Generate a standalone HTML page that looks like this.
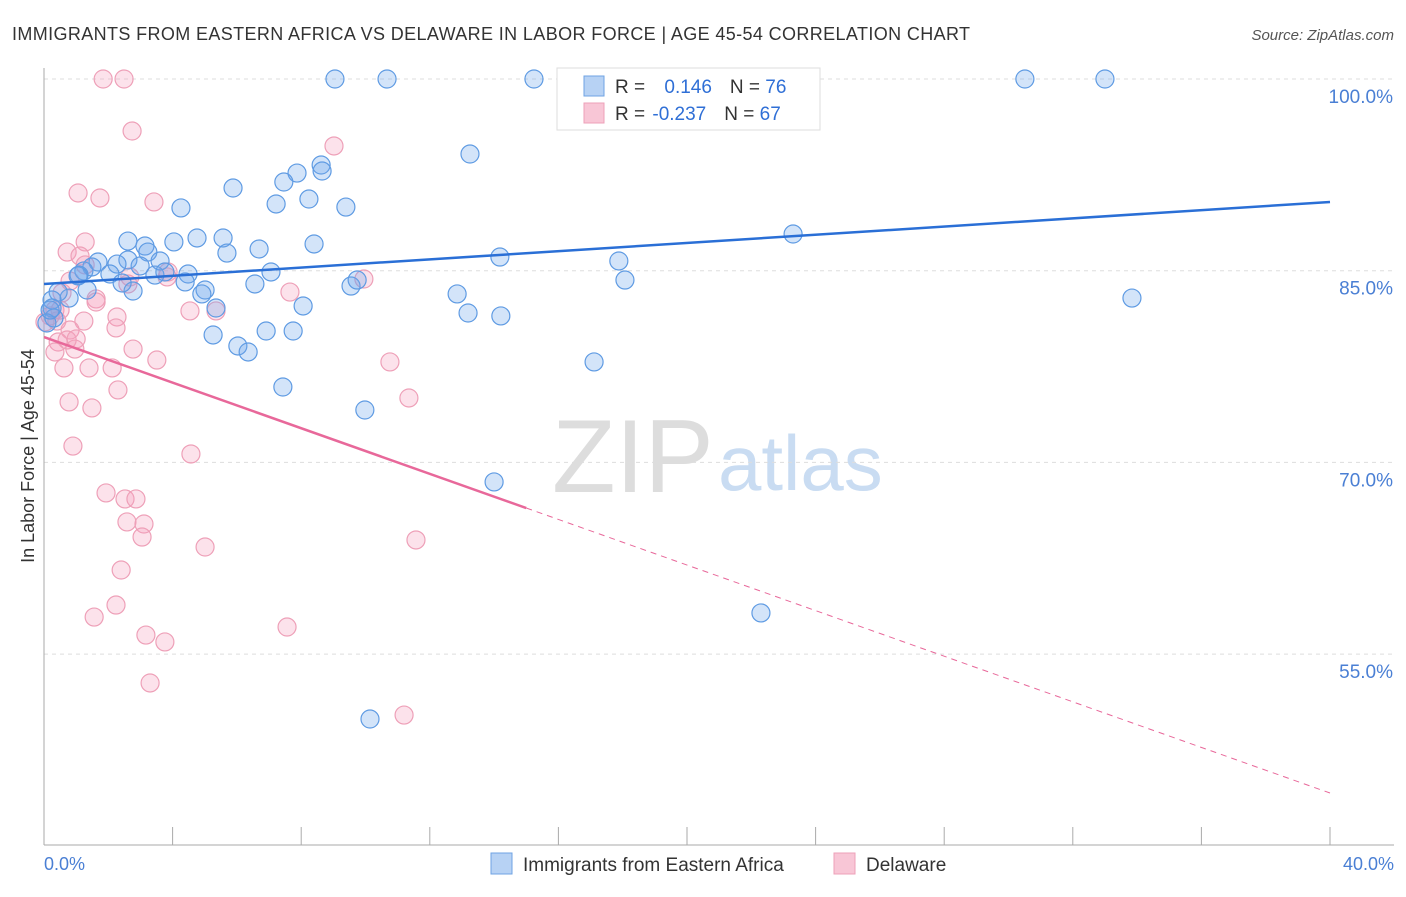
<!DOCTYPE html>
<html><head><meta charset="utf-8"><style>
body{margin:0;background:#fff;font-family:"Liberation Sans",sans-serif}
svg text{font-family:"Liberation Sans",sans-serif}
</style></head><body>
<svg id="c" width="1406" height="892" viewBox="0 0 1406 892">
<text x="12" y="40" font-size="18" fill="#333" textLength="958">IMMIGRANTS FROM EASTERN AFRICA VS DELAWARE IN LABOR FORCE | AGE 45-54 CORRELATION CHART</text>
<text x="1394" y="40" font-size="15" fill="#555" font-style="italic" text-anchor="end">Source: ZipAtlas.com</text>
<g>
<text x="552" y="492" font-size="104" fill="#ddd" font-family="Liberation Serif,serif">ZIP</text>
<text x="718" y="490" font-size="78" fill="#c9dcf2">atlas</text>
</g>
<g id="grid"></g><g id="axes"></g><g id="pts"></g><g id="trend"></g>
<text transform="translate(34,456) rotate(-90)" font-size="18" fill="#333" text-anchor="middle">In Labor Force | Age 45-54</text>
<text x="44" y="870" font-size="18" fill="#4a7fd4">0.0%</text>
<text x="1394" y="870" font-size="18" fill="#4a7fd4" text-anchor="end">40.0%</text>
<g>
<rect x="557" y="68" width="263" height="62" fill="#fff" stroke="#ddd"/>
<rect x="584" y="76" width="20" height="20" fill="#b7d2f4" stroke="#6fa3e3"/>
<rect x="584" y="103" width="20" height="20" fill="#f8c6d6" stroke="#eea0b8"/>
<text x="615" y="93" font-size="19" fill="#333">R = <tspan fill="#2f6fd6" dx="14">0.146</tspan><tspan dx="18">N = </tspan><tspan fill="#2f6fd6">76</tspan></text>
<text x="615" y="120" font-size="19" fill="#333">R = <tspan fill="#2f6fd6" dx="2">-0.237</tspan><tspan dx="18">N = </tspan><tspan fill="#2f6fd6">67</tspan></text>
</g>
<g>
<rect x="491" y="853" width="21" height="21" fill="#b7d2f4" stroke="#6fa3e3"/>
<text x="523" y="871" font-size="19" fill="#333">Immigrants from Eastern Africa</text>
<rect x="834" y="853" width="21" height="21" fill="#f8c6d6" stroke="#eea0b8"/>
<text x="866" y="871" font-size="19" fill="#333">Delaware</text>
</g>
</svg>
<script>
const yTicks=[100,85,70,55];
const yTickLabels=["100.0%","85.0%","70.0%","55.0%"];
const blueX=[9.05,10.67,15.24,16.58,30.51,33.0,13.25,8.62,8.65,7.87,7.46,5.88,8.24,7.22,9.39,4.26,2.61,3.14,4.04,4.76,5.57,6.69,8.4,5.69,3.23,14.18,17.88,23.3,1.68,2.61,2.27,1.49,1.24,1.09,2.05,2.99,3.61,3.45,3.76,4.48,4.39,5.01,4.91,2.77,2.43,1.34,1.06,0.78,0.44,0.25,0.25,0.31,0.09,0.19,18.07,7.06,6.56,9.55,9.74,12.85,8.06,5.35,5.26,6.91,7.75,6.03,6.35,13.19,14.21,33.84,17.11,7.43,9.98,14.0,22.3,10.14];
const blueY=[100,100,100,100,100,100,94.13,93.27,92.8,92.64,91.94,91.47,90.61,90.22,89.98,89.91,87.32,86.93,87.25,87.56,87.56,86.7,87.09,86.38,86.46,86.07,85.76,87.87,85.68,85.84,85.52,85.29,84.98,84.66,84.74,85.37,85.76,84.66,84.9,84.74,84.12,83.49,83.18,83.41,84.04,83.49,84.59,82.86,83.33,82.71,82.08,81.3,80.91,81.92,84.27,84.9,83.96,83.8,84.27,83.18,82.24,82.08,79.97,80.28,80.28,79.11,78.64,81.69,81.46,82.86,77.86,75.9,74.1,68.47,58.22,49.92];
const pinkX=[1.84,2.49,2.74,9.02,1.06,1.74,3.42,1.28,0.72,1.12,1.28,0.81,0.56,2.67,3.86,3.83,2.61,1.62,1.62,4.54,5.35,7.65,9.95,0.34,0.19,0.4,1.24,2.27,2.24,0.81,0.44,0.72,0.96,1.0,2.77,3.51,0.34,10.76,0.62,1.4,2.12,2.3,0.78,1.49,11.35,0.9,4.57,1.93,2.52,2.86,2.58,3.11,3.05,5.01,11.57,2.4,2.24,1.56,7.56,3.17,3.76,3.3,11.2,0.03,0.5];
const pinkY=[100,100,95.93,94.76,91.08,90.69,90.38,87.25,86.46,86.15,85.45,84.19,83.26,84.51,84.9,84.51,83.96,82.79,82.55,81.85,81.85,83.33,84.35,81.92,81.46,81.06,81.06,81.38,80.52,80.36,79.42,79.58,78.87,79.66,78.87,78.01,78.64,77.86,77.39,77.39,77.39,75.67,74.73,74.26,75.04,71.28,70.66,67.61,67.14,67.14,65.34,65.18,64.16,63.38,63.93,61.58,58.84,57.9,57.12,56.49,55.95,52.74,50.23,80.99,81.92];
const blueTrend=[83.96,90.38];
const pinkTrend=[79.81,44.13];
const pinkSolidEnd=15;
const NS="http://www.w3.org/2000/svg";
const X=v=>44+v*32.15, Y=v=>79+(100-v)*12.78;
function mk(tag,attrs,parent){const e=document.createElementNS(NS,tag);for(const k in attrs)e.setAttribute(k,attrs[k]);document.getElementById(parent).appendChild(e);return e;}
yTicks.forEach((t,i)=>{
 const g=mk('line',{x1:44,x2:1394,y1:Y(t),y2:Y(t),stroke:'#ddd','stroke-dasharray':'4,4'},'grid');
 
 
 const l=mk('text',{x:1393,y:Y(t)+24,'font-size':19,fill:'#4a7fd4','text-anchor':'end'},'grid');
 l.textContent=yTickLabels[i];
 
 
});
const ya=mk('line',{x1:44,x2:44,y1:68,y2:845,stroke:'#aaa'},'axes');


const xa=mk('line',{x1:44,x2:1394,y1:845,y2:845,stroke:'#aaa'},'axes');


for(let i=1;i<=10;i++){const t=mk('line',{x1:X(i*4),x2:X(i*4),y1:827,y2:845,stroke:'#aaa'},'axes');
 
 }
pinkX.forEach((v,i)=>{const c=mk('circle',{cx:X(v),cy:Y(pinkY[i]),r:9,fill:'rgba(244,160,190,0.3)',stroke:'#eea0b8','stroke-width':1.2},'pts');
 
 });
blueX.forEach((v,i)=>{const c=mk('circle',{cx:X(v),cy:Y(blueY[i]),r:9,fill:'rgba(110,165,235,0.3)',stroke:'#5f9be3','stroke-width':1.2},'pts');
 
 });
const bt=mk('line',{x1:X(0),y1:Y(blueTrend[0]),x2:X(40),y2:Y(blueTrend[1]),stroke:'#2a6fd6','stroke-width':2.5},'trend');


const pm=pinkTrend[0]+(pinkTrend[1]-pinkTrend[0])*pinkSolidEnd/40;
const ps=mk('line',{x1:X(0),y1:Y(pinkTrend[0]),x2:X(pinkSolidEnd),y2:Y(pm),stroke:'#e8689a','stroke-width':2.5},'trend');


const pd=mk('line',{x1:X(pinkSolidEnd),y1:Y(pm),x2:X(40),y2:Y(pinkTrend[1]),stroke:'#e8689a','stroke-width':1,'stroke-dasharray':'6,5'},'trend');


</script>
</body></html>
